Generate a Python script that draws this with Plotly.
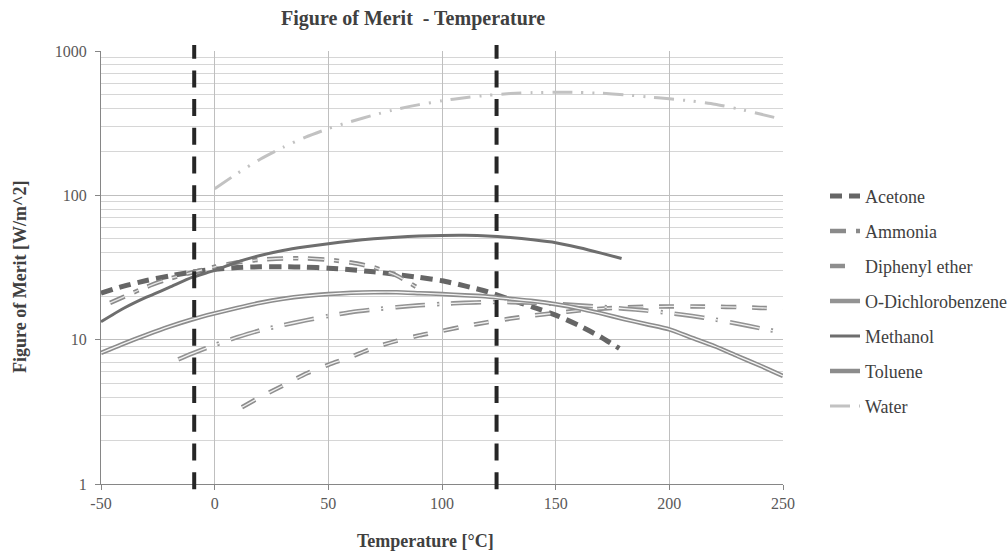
import plotly.graph_objects as go

# ---------------- data ----------------
acetone_t = [-50, -40, -30, -20, -10, 0, 10, 20, 30, 40, 50, 60, 70, 80, 90, 100, 110, 120, 130, 140, 150, 160, 170, 178]
acetone_v = [21.0, 23.5, 25.7, 27.6, 29.4, 30.8, 31.6, 32.0, 32.0, 31.8, 31.3, 30.5, 29.5, 28.3, 27.0, 25.6, 23.6, 21.5, 19.0, 16.8, 14.8, 12.6, 10.4, 8.7]

ammonia_t = [-46, -40, -30, -20, -10, 0, 10, 20, 30, 40, 50, 60, 70, 80, 89]
ammonia_v = [18.0, 19.8, 23.2, 26.4, 29.2, 32.0, 34.3, 35.8, 36.5, 36.6, 35.8, 34.2, 31.7, 27.8, 23.0]

diphenyl_t = [12, 20, 30, 40, 50, 60, 70, 80, 90, 100, 110, 120, 130, 140, 150, 160, 170, 180, 190, 200, 210, 220, 230, 240, 250]
diphenyl_v = [3.4, 4.0, 4.8, 5.8, 6.7, 7.6, 8.8, 9.8, 10.7, 11.5, 12.4, 13.2, 14.0, 14.7, 15.3, 15.9, 16.4, 16.7, 16.9, 17.0, 17.0, 16.9, 16.8, 16.6, 16.4]

odcb_t = [-16, -10, 0, 10, 20, 30, 40, 50, 60, 70, 80, 90, 100, 110, 120, 130, 140, 150, 160, 170, 180, 190, 200, 210, 220, 230, 240, 250]
odcb_v = [7.3, 8.0, 9.2, 10.4, 11.6, 12.6, 13.6, 14.6, 15.5, 16.2, 16.8, 17.3, 17.7, 18.0, 18.2, 18.2, 18.0, 17.7, 17.3, 16.9, 16.4, 15.9, 15.3, 14.6, 13.8, 12.9, 12.0, 11.2]

methanol_t = [-50, -40, -30, -20, -10, 0, 10, 20, 30, 40, 50, 60, 70, 80, 90, 100, 110, 120, 130, 140, 150, 160, 170, 179]
methanol_v = [13.3, 16.5, 19.7, 23.0, 27.0, 30.2, 34.5, 38.3, 41.5, 44.0, 46.2, 48.3, 50.0, 51.3, 52.2, 52.7, 52.8, 52.3, 51.0, 49.2, 47.0, 43.5, 39.8, 36.5]

toluene_t = [-50, -40, -30, -20, -10, 0, 10, 20, 30, 40, 50, 60, 70, 80, 90, 100, 110, 120, 130, 140, 150, 160, 170, 180, 190, 200, 210, 220, 230, 240, 250]
toluene_v = [8.1, 9.4, 10.8, 12.3, 13.8, 15.2, 16.6, 18.0, 19.2, 20.1, 20.7, 21.1, 21.3, 21.3, 21.0, 20.7, 20.3, 19.9, 19.2, 18.5, 17.6, 16.5, 15.2, 13.9, 12.8, 11.8, 10.3, 9.0, 7.7, 6.6, 5.6]

water_t = [0, 10, 20, 30, 40, 50, 60, 70, 80, 90, 100, 110, 120, 130, 140, 150, 160, 170, 180, 190, 200, 210, 220, 230, 240, 250]
water_v = [111, 142, 178, 215, 253, 290, 325, 360, 395, 425, 452, 475, 493, 507, 515, 518, 516, 510, 498, 482, 466, 450, 428, 398, 366, 335]

limit_temps = [-9, 124]

x_ticks = [-50, 0, 50, 100, 150, 200, 250]
x_tick_text = ["-50", "0", "50", "100", "150", "200", "250"]
y_ticks = [1, 10, 100, 1000]
y_tick_text = ["1", "10", "100", "1000"]
y_minor = [m * d for d in (1, 10, 100) for m in range(2, 10)]

FONT = "Liberation Serif"

fig = go.Figure()

def add_series(name, t, v, color, width, dash, inner=None):
    fig.add_trace(go.Scatter(
        x=t, y=v, mode="lines", name=name, legendgroup=name,
        line=dict(color=color, width=width, dash=dash, shape="spline", smoothing=0.6),
    ))
    if inner is not None:
        fig.add_trace(go.Scatter(
            x=t, y=v, mode="lines", name=name, legendgroup=name, showlegend=False,
            line=dict(color=inner, width=1.3, dash=dash, shape="spline", smoothing=0.6),
        ))

add_series("Acetone", acetone_t, acetone_v, "#666666", 5, "12px,7px")
add_series("Ammonia", ammonia_t, ammonia_v, "#8a8a8a", 4.5, "16px,10px,5px,10px", inner="#e6e6e6")
add_series("Diphenyl ether", diphenyl_t, diphenyl_v, "#8e8e8e", 4.5, "15px,16px", inner="#f0f0f0")
add_series("O-Dichlorobenzene", odcb_t, odcb_v, "#939393", 4.5, "30px,12px,2px,12px", inner="#f2f2f2")
add_series("Methanol", methanol_t, methanol_v, "#6e6e6e", 3, "solid")
add_series("Toluene", toluene_t, toluene_v, "#8c8c8c", 4.5, "solid", inner="#f4f4f4")
add_series("Water", water_t, water_v, "#c2c2c2", 3, "20px,9px,2px,9px,2px,9px")

for t in limit_temps:
    fig.add_shape(type="line", xref="x", yref="paper", x0=t, x1=t, y0=-0.012, y1=1.014,
                  line=dict(color="#262626", width=4, dash="17px,11.7px"), layer="above")

fig.update_layout(
    width=1007, height=554,
    margin=dict(l=101, r=224, t=51, b=70, autoexpand=False),
    paper_bgcolor="white", plot_bgcolor="white",
    font=dict(family=FONT, size=16, color="#595959"),
    showlegend=True,
    legend=dict(x=(825 - 101) / 682, y=0.707, xanchor="left", yanchor="top",
                font=dict(family=FONT, size=18, color="#404040"),
                tracegroupgap=8.6, bgcolor="rgba(0,0,0,0)"),
)

fig.update_xaxes(
    range=[-50, 250], tickvals=x_ticks, ticktext=x_tick_text, ticks="outside", ticklen=5,
    tickcolor="#868686",
    showgrid=True, gridcolor="#bfbfbf", gridwidth=1,
    showline=True, linecolor="#868686", linewidth=1, zeroline=False,
    tickfont=dict(family=FONT, size=16, color="#595959"),
)
fig.update_yaxes(
    type="log", range=[0, 3], tickvals=y_ticks, ticktext=y_tick_text,
    ticks="outside", ticklen=5, tickcolor="#868686", ticklabelstandoff=5,
    showgrid=True, gridcolor="#bfbfbf", gridwidth=1,
    minor=dict(tickvals=y_minor, showgrid=True, gridcolor="#d6d6d6", gridwidth=1, ticks=""),
    showline=True, linecolor="#868686", linewidth=1, zeroline=False,
    tickfont=dict(family=FONT, size=16, color="#595959"),
)

fig.add_annotation(text="<b>Figure of Merit  - Temperature</b>", xref="paper", yref="paper",
                   x=(413 - 101) / 682, y=1 + (51 - 18) / 433, xanchor="center", yanchor="middle",
                   showarrow=False, font=dict(family=FONT, size=20, color="#404040"))
fig.add_annotation(text="<b>Temperature [°C]</b>", xref="paper", yref="paper",
                   x=(425 - 101) / 682, y=-(541 - 484) / 433, xanchor="center", yanchor="middle",
                   showarrow=False, font=dict(family=FONT, size=18, color="#404040"))
fig.add_annotation(text="<b>Figure of Merit [W/m^2]</b>", xref="paper", yref="paper",
                   x=-(101 - 20) / 682, y=(484 - 277) / 433, xanchor="center", yanchor="middle",
                   textangle=-90, showarrow=False, font=dict(family=FONT, size=18, color="#404040"))

fig.write_html("out.html")
